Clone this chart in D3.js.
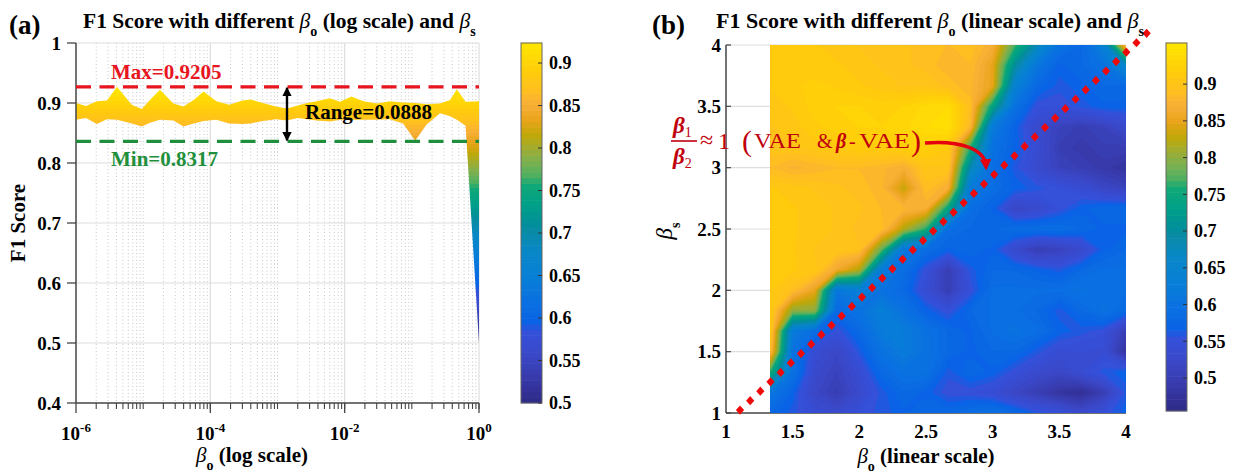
<!DOCTYPE html>
<html><head><meta charset="utf-8">
<script src="https://cdn.jsdelivr.net/npm/d3@7"></script>
<style>
html,body{margin:0;padding:0;background:#fff;}
svg{display:block;font-family:"Liberation Serif","Times New Roman",serif;}
</style></head><body>
<svg id="chart" width="1234" height="475"></svg>
<script>
// ================= DATA =================
// Panel (a): F1 band (min / max over beta_s) versus beta_o (log10 exponent)
const betaOLog10 = [-6,-5.85,-5.69,-5.54,-5.39,-5.17,-5.02,-4.9,-4.75,-4.55,-4.4,-4.25,-4.1,-3.91,-3.72,-3.52,-3.4,-3.22,-3.02,-2.86,-2.7,-2.56,-2.42,-2.22,-2.07,-1.9,-1.72,-1.52,-1.33,-1.13,-0.95,-0.78,-0.58,-0.43,-0.33,-0.2,0];
const f1Upper = [0.900,0.895,0.903,0.904,0.927,0.897,0.890,0.905,0.922,0.899,0.894,0.905,0.919,0.903,0.897,0.904,0.906,0.900,0.894,0.891,0.896,0.900,0.903,0.908,0.902,0.911,0.903,0.899,0.903,0.901,0.900,0.898,0.899,0.905,0.923,0.902,0.903];
const f1Lower = [0.872,0.875,0.865,0.873,0.872,0.866,0.861,0.867,0.872,0.871,0.861,0.866,0.870,0.872,0.866,0.865,0.866,0.870,0.873,0.871,0.875,0.873,0.871,0.869,0.872,0.872,0.872,0.872,0.873,0.866,0.837,0.864,0.883,0.878,0.872,0.862,0.500];
const maxLineValue = 0.927, minLineValue = 0.836;
const maxLabel = "Max=0.9205", minLabel = "Min=0.8317", rangeLabel = "Range=0.0888";
const yTicksA = [0.4,0.5,0.6,0.7,0.8,0.9,1];
const yTickLabelsA = ["0.4","0.5","0.6","0.7","0.8","0.9","1"];
const xTickExpA = [-6,-4,-2,0];
const cbarRangeA = [0.5, 0.9236];
const cbarTicksA = [0.5,0.55,0.6,0.65,0.7,0.75,0.8,0.85,0.9];
const cbarTickLabelsA = ["0.5","0.55","0.6","0.65","0.7","0.75","0.8","0.85","0.9"];

// Panel (b): F1 grid, columns = beta_o, rows = beta_s (top row = 4)
const betaO = [1.333,1.5,1.667,1.833,2,2.167,2.333,2.5,2.667,2.833,3,3.167,3.333,3.5,3.667,3.833,4];
const betaS = [4,3.833,3.667,3.5,3.333,3.167,3,2.833,2.667,2.5,2.333,2.167,2,1.833,1.667,1.5,1.333,1.167,1];
const f1Grid = [
 [.91,.91,.91,.905,.90,.90,.895,.89,.885,.89,.87,.77,.68,.60,.58,.64,.89],
 [.91,.915,.91,.91,.905,.90,.895,.89,.88,.885,.85,.70,.61,.57,.58,.60,.66],
 [.91,.915,.92,.915,.91,.905,.90,.90,.89,.88,.85,.64,.58,.56,.57,.58,.58],
 [.905,.91,.92,.925,.925,.92,.925,.935,.94,.89,.74,.60,.55,.55,.56,.57,.57],
 [.90,.905,.915,.92,.925,.925,.93,.94,.945,.88,.62,.57,.53,.51,.50,.51,.53],
 [.90,.90,.905,.91,.915,.915,.92,.92,.91,.76,.60,.57,.54,.50,.49,.50,.50],
 [.885,.875,.88,.885,.885,.88,.87,.90,.90,.68,.59,.56,.53,.51,.50,.49,.48],
 [.91,.905,.90,.895,.89,.88,.83,.89,.87,.62,.59,.57,.56,.55,.54,.52,.51],
 [.91,.91,.905,.90,.895,.885,.88,.87,.74,.59,.57,.52,.53,.55,.57,.58,.58],
 [.915,.91,.905,.90,.89,.89,.82,.76,.59,.58,.58,.59,.59,.59,.58,.57,.57],
 [.91,.91,.90,.90,.895,.78,.61,.59,.57,.58,.57,.53,.50,.51,.53,.57,.58],
 [.91,.91,.905,.86,.82,.62,.59,.55,.50,.56,.58,.58,.57,.56,.58,.59,.59],
 [.91,.89,.85,.61,.63,.60,.58,.54,.50,.55,.59,.59,.59,.59,.60,.59,.59],
 [.91,.80,.80,.58,.60,.63,.60,.57,.55,.58,.59,.59,.58,.56,.58,.60,.58],
 [.91,.62,.59,.55,.58,.62,.62,.60,.58,.57,.59,.60,.59,.57,.56,.55,.50],
 [.89,.60,.54,.52,.56,.60,.62,.60,.58,.57,.58,.58,.56,.54,.54,.54,.48],
 [.76,.60,.53,.51,.54,.58,.60,.60,.56,.58,.57,.55,.53,.52,.54,.56,.57],
 [.61,.57,.52,.50,.53,.56,.58,.57,.55,.55,.54,.52,.50,.48,.47,.50,.56],
 [.58,.56,.54,.53,.55,.56,.57,.58,.58,.59,.60,.58,.56,.55,.53,.55,.57]
];
const ratioLine = [{bo:1.105, bs:1.024},{bo:4.155, bs:4.095}];
const ratioDots = 41;
const xyTicksB = [1,1.5,2,2.5,3,3.5,4];
const xyTickLabelsB = ["1","1.5","2","2.5","3","3.5","4"];
const cbarRangeB = [0.455, 0.956];
const cbarTicksB = [0.5,0.55,0.6,0.65,0.7,0.75,0.8,0.85,0.9];
const cbarTickLabelsB = ["0.5","0.55","0.6","0.65","0.7","0.75","0.8","0.85","0.9"];

// ================= COLORMAP (parula-like, 64 levels) =================
const cmapStops = [
 [0.000,"#2f2a86"],[0.066,"#3838a8"],[0.132,"#3a48c8"],[0.198,"#3550da"],[0.224,"#0a62e6"],
 [0.271,"#0a6ee2"],[0.345,"#087ed8"],[0.420,"#0888c8"],[0.472,"#0a8aa8"],[0.503,"#009098"],
 [0.550,"#00a088"],[0.604,"#10a878"],[0.633,"#50b060"],[0.670,"#7cb050"],[0.708,"#a0ac30"],
 [0.744,"#c0a808"],[0.784,"#e8a418"],[0.829,"#f8ae38"],[0.865,"#ffbe22"],[0.915,"#ffcb0c"],[1,"#ffe600"]];
const cmap = d3.scaleLinear().domain(cmapStops.map(d=>d[0])).range(cmapStops.map(d=>d[1]))
  .interpolate(d3.interpolateRgb).clamp(true);
const NB = 64;
const bandColor = k => cmap((k+0.5)/NB);

// ================= SVG =================
const svg = d3.select("#chart");
const defs = svg.append("defs");
const AX = "#444", GRID = "#dedede", MINOR = "#c8c8c8";
const RED = "#e8141e", GREEN = "#1f8f3c";
const TICK = 19, CB = 18, LAB = 21, TITLE = 21.5;

function subText(g, x, y, parts, opts={}) {
  const t = g.append("text").attr("x", x).attr("y", y)
    .attr("font-weight", opts.weight || "bold").attr("font-size", opts.size || 20)
    .attr("fill", opts.fill || "#000").attr("text-anchor", opts.anchor || "start");
  if (opts.transform) t.attr("transform", opts.transform);
  let cur = 0;
  parts.forEach(p => {
    const s = t.append("tspan").text(p.t);
    const want = p.dy || 0;
    if (want !== cur) { s.attr("dy", want - cur); cur = want; }
    if (p.size) s.attr("font-size", p.size);
    if (p.italic) s.attr("font-style", "italic");
    if (p.weight) s.attr("font-weight", p.weight);
  });
  return t;
}

// ---------------- Panel (a) ----------------
const xL = d3.scaleLog().domain([1e-6, 1]).range([76, 479]);
const yL = d3.scaleLinear().domain([0.4, 1]).range([403, 43]);
const gA = svg.append("g");

const minorTicks = [];
for (let e = -6; e < 0; e++) for (let m = 2; m <= 10; m++) minorTicks.push(m * Math.pow(10, e));
const minorGrid = minorTicks.filter(v => ![1e-4,1e-2,1].some(M => Math.abs(v/M - 1) < 1e-9));
gA.append("g").selectAll("line").data(minorGrid).join("line")
  .attr("x1", d => xL(d)).attr("x2", d => xL(d)).attr("y1", yL(1)).attr("y2", yL(0.4))
  .attr("stroke", MINOR).attr("stroke-width", 1).attr("stroke-dasharray", "1,2.5");
gA.append("g").selectAll("line").data(xTickExpA.slice(1)).join("line")
  .attr("x1", d => xL(10**d)).attr("x2", d => xL(10**d)).attr("y1", yL(1)).attr("y2", yL(0.4))
  .attr("stroke", GRID).attr("stroke-width", 1.2);
gA.append("g").selectAll("line").data(yTicksA.slice(1)).join("line")
  .attr("x1", xL(1e-6)).attr("x2", xL(1)).attr("y1", d => yL(d)).attr("y2", d => yL(d))
  .attr("stroke", GRID).attr("stroke-width", 1.2);

const gradA = defs.append("linearGradient").attr("id", "bandGrad")
  .attr("gradientUnits", "userSpaceOnUse")
  .attr("x1", 0).attr("x2", 0).attr("y1", yL(cbarRangeA[0])).attr("y2", yL(cbarRangeA[1]));
for (let k = 0; k < NB; k++) {
  gradA.append("stop").attr("offset", k/NB).attr("stop-color", bandColor(k));
  gradA.append("stop").attr("offset", (k+1)/NB).attr("stop-color", bandColor(k));
}
const bandData = betaOLog10.map((e, i) => ({bo: Math.pow(10, e), hi: f1Upper[i], lo: f1Lower[i]}));
gA.append("path").datum(bandData)
  .attr("d", d3.area().x(d => xL(d.bo)).y0(d => yL(d.lo)).y1(d => yL(d.hi)))
  .attr("fill", "url(#bandGrad)");

gA.append("line").attr("x1", xL(1e-6)).attr("x2", xL(1e-6)).attr("y1", yL(1)).attr("y2", yL(0.4))
  .attr("stroke", AX).attr("stroke-width", 1.5);
gA.append("line").attr("x1", xL(1e-6)).attr("x2", xL(1)).attr("y1", yL(0.4)).attr("y2", yL(0.4))
  .attr("stroke", AX).attr("stroke-width", 1.5);
gA.append("g").selectAll("line").data(yTicksA).join("line")
  .attr("x1", xL(1e-6) - 9).attr("x2", xL(1e-6)).attr("y1", d => yL(d)).attr("y2", d => yL(d))
  .attr("stroke", AX).attr("stroke-width", 1.3);
gA.append("g").selectAll("text").data(yTicksA).join("text")
  .attr("x", xL(1e-6) - 15).attr("y", d => yL(d)).attr("dy", "0.35em")
  .attr("text-anchor", "end").attr("font-weight", "bold").attr("font-size", TICK)
  .text((d, i) => yTickLabelsA[i]);
gA.append("g").selectAll("line").data(minorTicks).join("line")
  .attr("x1", d => xL(d)).attr("x2", d => xL(d)).attr("y1", yL(0.4)).attr("y2", yL(0.4) + 6)
  .attr("stroke", AX).attr("stroke-width", 1.1);
gA.append("g").selectAll("line").data(xTickExpA).join("line")
  .attr("x1", d => xL(10**d)).attr("x2", d => xL(10**d)).attr("y1", yL(0.4)).attr("y2", yL(0.4) + 10)
  .attr("stroke", AX).attr("stroke-width", 1.3);
xTickExpA.forEach(e => {
  subText(gA, xL(10**e), 440, [{t:"10"}, {t:String(e), dy:-8, size:13}], {size:TICK, anchor:"middle"});
});

gA.append("line").attr("x1", xL(1e-6)).attr("x2", xL(1)).attr("y1", yL(maxLineValue)).attr("y2", yL(maxLineValue))
  .attr("stroke", RED).attr("stroke-width", 3.2).attr("stroke-dasharray", "15,8.5");
gA.append("line").attr("x1", xL(1e-6)).attr("x2", xL(1)).attr("y1", yL(minLineValue)).attr("y2", yL(minLineValue))
  .attr("stroke", GREEN).attr("stroke-width", 3.2).attr("stroke-dasharray", "15,8.5");
gA.append("text").attr("x", 111).attr("y", 79).attr("font-weight", "bold").attr("font-size", LAB)
  .attr("fill", RED).text(maxLabel);
gA.append("text").attr("x", 111).attr("y", 166).attr("font-weight", "bold").attr("font-size", LAB)
  .attr("fill", GREEN).text(minLabel);
gA.append("text").attr("x", 305).attr("y", 119).attr("font-weight", "bold").attr("font-size", LAB)
  .attr("fill", "#000").text(rangeLabel);
defs.append("marker").attr("id", "blkArrow").attr("viewBox", "0 0 10 10").attr("refX", 9).attr("refY", 5)
  .attr("markerWidth", 4).attr("markerHeight", 4).attr("orient", "auto-start-reverse")
  .append("path").attr("d", "M0,0 L10,5 L0,10 Z").attr("fill", "#000");
gA.append("line").attr("x1", 287).attr("x2", 287).attr("y1", yL(maxLineValue) + 1).attr("y2", yL(minLineValue) - 1)
  .attr("stroke", "#000").attr("stroke-width", 2.4)
  .attr("marker-start", "url(#blkArrow)").attr("marker-end", "url(#blkArrow)");

subText(gA, 9, 34, [{t:"(a)"}], {size:27});
subText(gA, 83, 28, [{t:"F1 Score with different "}, {t:"β", italic:true, weight:"normal"},
  {t:"o", dy:8, size:14}, {t:" (log scale) and ", dy:0}, {t:"β", italic:true, weight:"normal"}, {t:"s", dy:8, size:14}], {size:TITLE});
subText(gA, 252, 462, [{t:"β", italic:true, weight:"normal"}, {t:"o", dy:8, size:14}, {t:" (log scale)", dy:0}], {size:LAB, anchor:"middle"});
gA.append("text").attr("transform", "translate(25,223) rotate(-90)").attr("text-anchor", "middle")
  .attr("font-weight", "bold").attr("font-size", LAB).text("F1 Score");

function colorbar(x, w, range, y0, y1, ticks, labels) {
  const s = d3.scaleLinear().domain(range).range([y0, y1]);
  const g = svg.append("g");
  const bh = (y0 - y1) / NB;
  g.selectAll("rect").data(d3.range(NB)).join("rect")
    .attr("x", x).attr("width", w).attr("y", k => y0 - (k+1)*bh - 0.3).attr("height", bh + 0.6)
    .attr("fill", k => bandColor(k));
  g.append("rect").attr("x", x).attr("y", y1).attr("width", w).attr("height", y0 - y1)
    .attr("fill", "none").attr("stroke", "#666").attr("stroke-width", 1);
  g.selectAll("line.t").data(ticks).join("line").attr("class", "t")
    .attr("x1", x + w - 4).attr("x2", x + w).attr("y1", d => s(d)).attr("y2", d => s(d))
    .attr("stroke", "#333").attr("stroke-width", 1);
  g.selectAll("text").data(ticks).join("text")
    .attr("x", x + w + 7).attr("y", d => s(d)).attr("dy", "0.35em")
    .attr("font-weight", "bold").attr("font-size", CB).text((d, i) => labels[i]);
}
colorbar(521, 21, cbarRangeA, 403, 43, cbarTicksA, cbarTickLabelsA);

// ---------------- Panel (b) ----------------
const xR = d3.scaleLinear().domain([1, 4]).range([726, 1126]);
const yR = d3.scaleLinear().domain([1, 4]).range([413, 45]);
const gB = svg.append("g");
gB.append("g").selectAll("line").data(xyTicksB.slice(1)).join("line")
  .attr("x1", xR(1)).attr("x2", xR(4)).attr("y1", d => yR(d)).attr("y2", d => yR(d))
  .attr("stroke", GRID).attr("stroke-width", 1.2);
gB.append("line").attr("x1", xR(1)).attr("x2", xR(1)).attr("y1", yR(4)).attr("y2", yR(1))
  .attr("stroke", AX).attr("stroke-width", 1.5);
gB.append("line").attr("x1", xR(1)).attr("x2", xR(4)).attr("y1", yR(1)).attr("y2", yR(1))
  .attr("stroke", AX).attr("stroke-width", 1.5);
gB.append("g").selectAll("line").data(xyTicksB).join("line")
  .attr("x1", xR(1)).attr("x2", xR(1) + 5).attr("y1", d => yR(d)).attr("y2", d => yR(d))
  .attr("stroke", AX).attr("stroke-width", 1.2);

const nC = betaO.length, nR = betaS.length;
const thresholds = d3.range(NB).map(k => cbarRangeB[0] + k * (cbarRangeB[1] - cbarRangeB[0]) / NB);
const contours = d3.contours().size([nC, nR]).thresholds(thresholds)(f1Grid.flat());
const gx2bo = d3.scaleLinear().domain([0.5, nC - 0.5]).range([betaO[0], betaO[nC - 1]]);
const gy2bs = d3.scaleLinear().domain([0.5, nR - 0.5]).range([betaS[0], betaS[nR - 1]]);
const proj = d3.geoTransform({point(x, y) { this.stream.point(xR(gx2bo(x)), yR(gy2bs(y))); }});
const cpath = d3.geoPath(proj);
defs.append("clipPath").attr("id", "heatClip").append("rect")
  .attr("x", xR(betaO[0])).attr("y", yR(4)).attr("width", xR(4) - xR(betaO[0])).attr("height", yR(1) - yR(4));
gB.append("g").attr("clip-path", "url(#heatClip)").selectAll("path").data(contours).join("path")
  .attr("d", cpath).attr("fill", (d, i) => bandColor(i)).attr("stroke", (d, i) => bandColor(i)).attr("stroke-width", 0.4);

gB.append("g").selectAll("text").data(xyTicksB).join("text")
  .attr("x", xR(1) - 5).attr("y", d => yR(d)).attr("dy", "0.35em").attr("text-anchor", "end")
  .attr("font-weight", "bold").attr("font-size", TICK).text((d, i) => xyTickLabelsB[i]);
gB.append("g").selectAll("text").data(xyTicksB).join("text")
  .attr("x", d => xR(d)).attr("y", 438).attr("text-anchor", "middle")
  .attr("font-weight", "bold").attr("font-size", TICK).text((d, i) => xyTickLabelsB[i]);

// ratio line drawn as red diamonds
const dotPos = d3.range(ratioDots).map(i => {
  const t = i / (ratioDots - 1);
  return {bo: ratioLine[0].bo + t * (ratioLine[1].bo - ratioLine[0].bo),
          bs: ratioLine[0].bs + t * (ratioLine[1].bs - ratioLine[0].bs)};
});
gB.append("g").selectAll("path").data(dotPos).join("path")
  .attr("transform", d => `translate(${xR(d.bo)},${yR(d.bs)})`)
  .attr("d", "M0,-4.6 L4.1,0 L0,4.6 L-4.1,0 Z").attr("fill", "#ee0a0a");

const DR = "#c0000c";
subText(gB, 673, 133, [{t:"β", italic:true}, {t:"1", dy:4, size:14, weight:"normal"}], {size:23, fill:DR, weight:"bold"});
gB.append("line").attr("x1", 671).attr("x2", 697).attr("y1", 141).attr("y2", 141).attr("stroke", DR).attr("stroke-width", 1.6);
subText(gB, 673, 164, [{t:"β", italic:true}, {t:"2", dy:4, size:14, weight:"normal"}], {size:23, fill:DR, weight:"bold"});
subText(gB, 700, 148, [{t:"≈"}], {size:24, fill:DR, weight:"normal"});
subText(gB, 718, 149, [{t:"1"}], {size:24, fill:DR, weight:"normal"});
subText(gB, 742, 151, [{t:"("}], {size:30, fill:DR, weight:"normal"});
gB.append("text").attr("x", 754).attr("y", 148).attr("font-size", 20).attr("fill", DR)
  .attr("textLength", 47).attr("lengthAdjust", "spacingAndGlyphs").text("VAE");
subText(gB, 817, 148, [{t:"&"}], {size:20, fill:DR, weight:"normal"});
subText(gB, 836, 148, [{t:"β", italic:true}], {size:20, fill:DR, weight:"bold"});
subText(gB, 849, 148, [{t:"-"}], {size:20, fill:DR, weight:"normal"});
gB.append("text").attr("x", 859).attr("y", 148).attr("font-size", 20).attr("fill", DR)
  .attr("textLength", 51).attr("lengthAdjust", "spacingAndGlyphs").text("VAE");
subText(gB, 911, 151, [{t:")"}], {size:30, fill:DR, weight:"normal"});
defs.append("marker").attr("id", "redArrow").attr("viewBox", "0 0 10 10").attr("refX", 6).attr("refY", 5)
  .attr("markerWidth", 3.4).attr("markerHeight", 3.4).attr("orient", "auto")
  .append("path").attr("d", "M0,0 L10,5 L0,10 Z").attr("fill", "#e5000f");
gB.append("path").attr("d", "M925,143 C962,140 985,150 986,166")
  .attr("fill", "none").attr("stroke", "#e5000f").attr("stroke-width", 3.4).attr("marker-end", "url(#redArrow)");

subText(gB, 652, 34, [{t:"(b)"}], {size:27});
subText(gB, 716, 28, [{t:"F1 Score with different "}, {t:"β", italic:true, weight:"normal"},
  {t:"o", dy:8, size:14}, {t:" (linear scale) and ", dy:0}, {t:"β", italic:true, weight:"normal"}, {t:"s", dy:8, size:14}], {size:22});
subText(gB, 926, 463, [{t:"β", italic:true, weight:"normal"}, {t:"o", dy:8, size:14}, {t:" (linear scale)", dy:0}], {size:LAB, anchor:"middle"});
subText(gB, 0, 0, [{t:"β", italic:true, weight:"normal"}, {t:"s", dy:8, size:14}], {size:23, anchor:"middle", transform:"translate(672,231) rotate(-90)"});

colorbar(1166, 21, cbarRangeB, 411, 43, cbarTicksB, cbarTickLabelsB);
</script></body></html>
